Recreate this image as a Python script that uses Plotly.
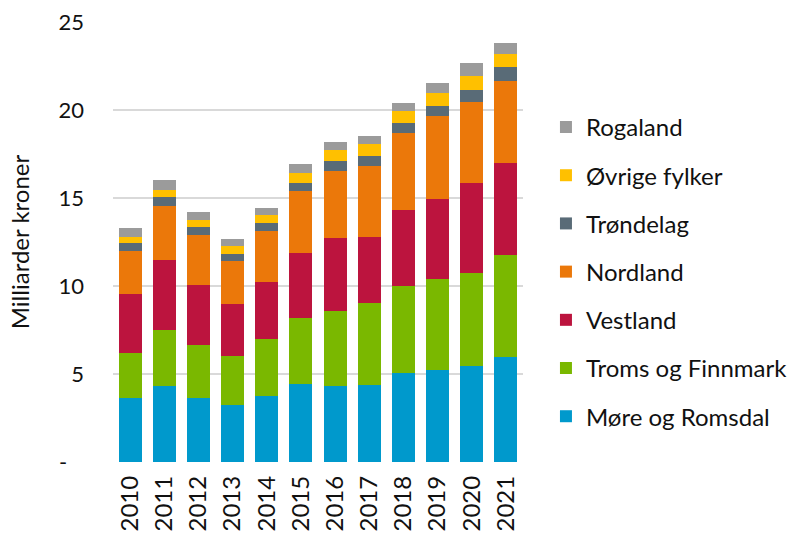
import plotly.graph_objects as go

years = [str(y) for y in range(2010, 2022)]

# Milliarder kroner per region and year
more_og_romsdal = [3.66, 4.32, 3.66, 3.26, 3.77, 4.43, 4.32, 4.40, 5.06, 5.23, 5.45, 5.99]
troms_og_finnmark = [2.52, 3.20, 2.99, 2.75, 3.22, 3.75, 4.24, 4.62, 4.92, 5.15, 5.27, 5.75]
vestland = [3.39, 3.96, 3.41, 2.97, 3.24, 3.72, 4.17, 3.79, 4.36, 4.56, 5.13, 5.25]
nordland = [2.44, 3.05, 2.82, 2.44, 2.90, 3.48, 3.79, 4.03, 4.38, 4.70, 4.59, 4.68]
trondelag = [0.42, 0.53, 0.46, 0.42, 0.43, 0.47, 0.57, 0.57, 0.54, 0.61, 0.70, 0.76]
ovrige_fylker = [0.38, 0.38, 0.41, 0.42, 0.46, 0.55, 0.62, 0.64, 0.67, 0.70, 0.79, 0.75]
rogaland = [0.51, 0.57, 0.44, 0.41, 0.39, 0.51, 0.49, 0.47, 0.47, 0.57, 0.72, 0.63]

y_ticks = [0, 5, 10, 15, 20, 25]
y_tick_text = ["-\u00a0\u00a0\u00a0", "5", "10", "15", "20", "25"]

series = [
    ("Møre og Romsdal", more_og_romsdal, "#0099CC"),
    ("Troms og Finnmark", troms_og_finnmark, "#7AB800"),
    ("Vestland", vestland, "#BC143E"),
    ("Nordland", nordland, "#EB780A"),
    ("Trøndelag", trondelag, "#596B77"),
    ("Øvrige fylker", ovrige_fylker, "#FFC000"),
    ("Rogaland", rogaland, "#9B9B9B"),
]

font = "Lato, 'Open Sans', sans-serif"

fig = go.Figure()
for i, (name, vals, color) in enumerate(series):
    fig.add_trace(go.Bar(
        x=years, y=vals, name=name,
        legendgroup=f"g{i}", legendrank=len(series) - i,
        marker=dict(color=color, line=dict(width=0)),
    ))

fig.update_layout(
    width=799, height=533,
    barmode="stack", bargap=0.33,
    plot_bgcolor="white", paper_bgcolor="white",
    margin=dict(l=113, r=276, t=22, b=71, autoexpand=False),
    font=dict(family=font, size=22, color="#111111"),
    showlegend=True,
    legend=dict(
        traceorder="grouped", tracegroupgap=14,
        x=1.056, xanchor="left", y=0.432, yanchor="middle",
        font=dict(size=24), itemwidth=30,
    ),
    xaxis=dict(
        tickangle=-90, showgrid=False, zeroline=False,
        tickfont=dict(size=24), ticks="", showline=False,
        ticklabelstandoff=8, automargin=False,
    ),
    yaxis=dict(
        range=[0, 25], tickvals=y_ticks, ticktext=y_tick_text,
        showgrid=True, gridcolor="#D9D9D9", gridwidth=1.5,
        zeroline=False, ticks="", ticklabelstandoff=28, automargin=False,
        tickfont=dict(size=22),
        title=dict(text="Milliarder kroner", font=dict(size=24), standoff=22),
    ),
)

fig.write_html("out.html")
